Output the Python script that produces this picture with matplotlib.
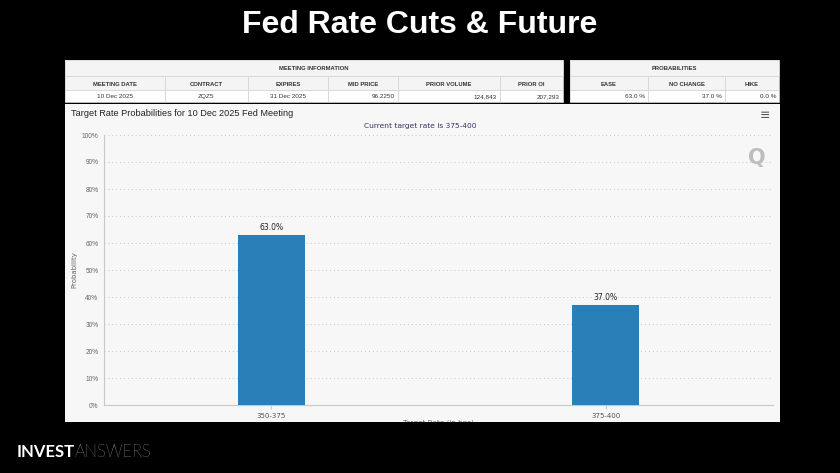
import matplotlib
matplotlib.use("Agg")
import matplotlib.pyplot as plt
from matplotlib.patches import Rectangle

# data
categories = ["350-375", "375-400"]
probs = [63.0, 37.0]

meet_cols = ["MEETING DATE", "CONTRACT", "EXPIRES", "MID PRICE", "PRIOR VOLUME", "PRIOR OI"]
meet_vals = ["10 Dec 2025", "ZQZ5", "31 Dec 2025", "96.2250", "124,843", "207,293"]
prob_cols = ["EASE", "NO CHANGE", "HIKE"]
prob_vals = ["63.0 %", "37.0 %", "0.0 %"]

W, H = 840, 473
fig = plt.figure(figsize=(W / 100, H / 100), dpi=100, facecolor="black")
plt.rcParams["font.family"] = ["Liberation Sans", "DejaVu Sans"]


def fx(x):
    return x / W


def fy(y):
    return 1 - y / H


def rect(x0, y0, x1, y1, fc, ec="none", lw=0.6, z=-2):
    fig.patches.append(Rectangle((fx(x0), fy(y1)), fx(x1) - fx(x0), fy(y0) - fy(y1),
                                 transform=fig.transFigure, facecolor=fc,
                                 edgecolor=ec, linewidth=lw, zorder=z))


# big title
fig.text(0.5, fy(25), "Fed Rate Cuts & Future", color="white", fontsize=23,
         fontweight="bold", ha="center", va="center")

# tables
grid_c = "#d8d8d8"
meet_x = [65, 165, 248, 328, 398, 500, 563]
prob_x = [570, 648, 725, 779]
rows = [60, 76, 90, 102]
for xs, cols, vals, title in [(meet_x, meet_cols, meet_vals, "MEETING INFORMATION"),
                              (prob_x, prob_cols, prob_vals, "PROBABILITIES")]:
    rect(xs[0], rows[0], xs[-1], rows[3], "white")
    rect(xs[0], rows[0], xs[-1], rows[2], "#f4f4f4")
    rect(xs[0], rows[0], xs[-1], rows[1], "#f4f4f4", ec=grid_c)
    fig.text(fx((xs[0] + xs[-1]) / 2), fy(69), title, fontsize=4.2, fontweight="bold",
             color="#333333", ha="center", va="center")
    for i, (c, v) in enumerate(zip(cols, vals)):
        rect(xs[i], rows[1], xs[i + 1], rows[2], "none", ec=grid_c)
        rect(xs[i], rows[2], xs[i + 1], rows[3], "none", ec=grid_c)
        fig.text(fx((xs[i] + xs[i + 1]) / 2), fy(84), c, fontsize=4.2, fontweight="bold",
                 color="#333333", ha="center", va="center")
        num = v[0].isdigit() and ("," in v or "." in v) and "Dec" not in v
        if num:
            fig.text(fx(xs[i + 1] - 3), fy(96.5), v, fontsize=4.6, color="#333333",
                     ha="right", va="center")
        else:
            fig.text(fx((xs[i] + xs[i + 1]) / 2), fy(96.5), v, fontsize=4.6,
                     color="#333333", ha="center", va="center")

# chart panel
rect(65, 104, 780, 430, "#f7f7f7")
fig.text(fx(71), fy(113), "Target Rate Probabilities for 10 Dec 2025 Fed Meeting",
         fontsize=6.6, color="#222222", ha="left", va="center")
fig.text(fx(420), fy(126), "Current target rate is 375-400", fontsize=5.4,
         color="#333366", ha="center", va="center", family="DejaVu Sans")
fig.text(fx(765), fy(115), "\u2261", fontsize=9, color="#555555", ha="center",
         va="center", family="DejaVu Sans")
fig.text(fx(757), fy(158), "Q", fontsize=15, color="#bdbdbd", fontweight="bold",
         ha="center", va="center", family="DejaVu Sans")

ax = fig.add_axes([fx(104), fy(405), fx(773) - fx(104), fy(135) - fy(405)])
ax.set_zorder(1)
ax.set_facecolor("none")
pos = list(range(len(categories)))
bars = ax.bar(pos, probs, width=0.2, color="#2980b9", zorder=3)
for b, p in zip(bars, probs):
    ax.text(b.get_x() + b.get_width() / 2, p + 1.2, "%.1f%%" % p, ha="center",
            va="bottom", fontsize=5.5, color="#222222", family="DejaVu Sans")
ax.set_xlim(-0.5, len(categories) - 0.5)
ax.set_ylim(0, 100)
ax.set_yticks(range(0, 101, 10))
ax.set_yticklabels(["%d%%" % v for v in range(0, 101, 10)])
ax.set_xticks(pos)
ax.set_xticklabels(categories, family="DejaVu Sans")
ax.tick_params(axis="y", length=0, labelsize=4.7, labelcolor="#666666", pad=4)
ax.tick_params(axis="x", length=3, color="#cccccc", labelsize=5, labelcolor="#555555", pad=3)
ax.grid(axis="y", linestyle=(0, (1, 3)), color="#c4c4c4", linewidth=0.7, zorder=0)
for s in ["top", "right"]:
    ax.spines[s].set_visible(False)
ax.spines["left"].set_color("#c8c8c8")
ax.spines["bottom"].set_color("#c8c8c8")
ax.set_ylabel("Probability", fontsize=5, color="#666666", family="DejaVu Sans", labelpad=3)
# x label sits mostly below the cut-off edge of the panel
fig.text(fx(438), fy(422.8), "Target Rate (in bps)", fontsize=5.2, color="#666666",
         family="DejaVu Sans", ha="center", va="center", zorder=4)

# black strip cutting off the bottom of the panel
rect(0, 422, W, H, "black", z=5)

# logo
t1 = fig.text(fx(17), fy(452), "INVEST", color="white", fontsize=12, fontweight="bold",
              family="Lato", ha="left", va="center", zorder=6)
fig.canvas.draw()
bb = t1.get_window_extent()
fig.text(bb.x1 / W, fy(452), "ANSWERS", color="white", fontsize=12, fontweight="light",
         family="Lato", ha="left", va="center", zorder=6)

fig.savefig("out.png", dpi=100, facecolor="black")
